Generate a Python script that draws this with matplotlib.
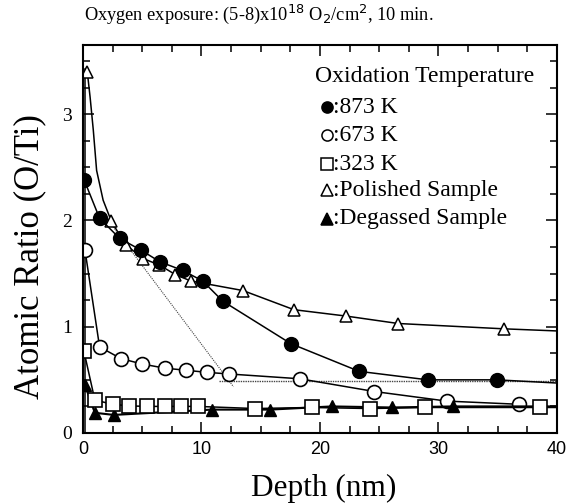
import matplotlib
matplotlib.use("Agg")
import matplotlib.pyplot as plt
from matplotlib.ticker import MultipleLocator

# 873 K (filled circles)
depth_873 = [0.1, 1.4, 3.1, 4.9, 6.5, 8.4, 10.1, 11.8, 17.55, 23.3, 29.1, 34.9]
ratio_873 = [2.38, 2.02, 1.83, 1.72, 1.61, 1.53, 1.43, 1.24, 0.84, 0.58, 0.50, 0.50]
curve_873_x = depth_873 + [40.0]
curve_873_y = ratio_873 + [0.47]

# 673 K (open circles)
depth_673 = [0.17, 1.4, 3.2, 4.95, 6.9, 8.7, 10.5, 12.35, 18.3, 24.6, 30.7, 36.8]
ratio_673 = [1.72, 0.81, 0.70, 0.65, 0.61, 0.59, 0.57, 0.555, 0.51, 0.39, 0.30, 0.27]

# 323 K (open squares)
depth_323 = [0.08, 1.0, 2.5, 3.9, 5.4, 6.9, 8.3, 9.7, 14.5, 19.3, 24.2, 28.9, 38.6]
ratio_323 = [0.77, 0.31, 0.27, 0.255, 0.25, 0.25, 0.25, 0.25, 0.23, 0.24, 0.23, 0.24, 0.24]
curve_323_x = depth_323 + [40.0]
curve_323_y = ratio_323 + [0.24]

# polished sample (open triangles)
depth_pol = [0.36, 2.4, 3.6, 5.1, 6.45, 7.8, 9.1, 13.5, 17.8, 22.2, 26.6, 35.5]
ratio_pol = [3.40, 1.99, 1.77, 1.64, 1.58, 1.49, 1.43, 1.34, 1.16, 1.10, 1.03, 0.98]
curve_pol_x = [0.36, 0.6, 0.87, 1.15, 1.7] + depth_pol[1:] + [40.0]
curve_pol_y = [3.40, 3.16, 2.85, 2.47, 2.19] + ratio_pol[1:] + [0.96]

# degassed sample (filled triangles)
depth_deg = [0.17, 1.0, 2.6, 10.9, 15.8, 21.0, 26.05, 31.25]
ratio_deg = [0.45, 0.19, 0.17, 0.22, 0.22, 0.25, 0.24, 0.25]
curve_deg_x = depth_deg + [40.0]
curve_deg_y = ratio_deg + [0.25]

# surface reference line and dotted guide lines
surface_x = [0.15, 0.15]
surface_y = [0.0, 3.42]
slope_x = [2.2, 12.7]
slope_y = [1.99, 0.435]
level_x = [11.5, 40.0]
level_y = [0.49, 0.49]

legend_labels = [":873 K", ":673 K", ":323 K", ":Polished Sample", ":Degassed Sample"]

serif = "Liberation Serif"
sans = "Liberation Sans"

fig = plt.figure(figsize=(5.68, 5.04), dpi=100)
ax = fig.add_axes([0.1461, 0.1409, 0.8345, 0.7698])

lw = 1.1
ms = 9
ax.plot(surface_x, surface_y, color="black", lw=lw)
ax.plot(slope_x, slope_y, color="#444444", lw=0.8, ls=(0, (1, 1)))
ax.plot(level_x, level_y, color="#444444", lw=1.0, ls=(0, (1, 0.7)))

ax.plot(curve_pol_x, curve_pol_y, color="black", lw=lw)
ax.plot(depth_pol, ratio_pol, ls="none", marker="^", ms=ms, mfc="white", mec="black", mew=1.1)

ax.plot(curve_873_x, curve_873_y, color="black", lw=lw)
ax.plot(depth_873, ratio_873, ls="none", marker="o", ms=ms + 1, mfc="black", mec="black")

ax.plot(depth_673, ratio_673, color="black", lw=lw)
ax.plot(depth_673, ratio_673, ls="none", marker="o", ms=ms + 1, mfc="white", mec="black", mew=1.2)

ax.plot(curve_deg_x, curve_deg_y, color="black", lw=lw + 0.4)
ax.plot(depth_deg, ratio_deg, ls="none", marker="^", ms=ms - 1, mfc="black", mec="black")

ax.plot(curve_323_x, curve_323_y, color="black", lw=lw)
ax.plot(depth_323, ratio_323, ls="none", marker="s", ms=ms + 1, mfc="white", mec="black", mew=1.2)

ax.set_xlim(0, 40)
ax.set_ylim(0, 3.65)
ax.xaxis.set_major_locator(MultipleLocator(10))
ax.xaxis.set_minor_locator(MultipleLocator(2.5))
ax.yaxis.set_major_locator(MultipleLocator(1))
ax.yaxis.set_minor_locator(MultipleLocator(0.25))
ax.tick_params(which="both", direction="in", top=True, right=True, width=1.1)
ax.tick_params(which="major", length=8)
ax.tick_params(which="minor", length=5)
ax.tick_params(axis="x", pad=6)
ax.tick_params(axis="y", pad=8)
for lab in ax.get_xticklabels():
    lab.set_fontfamily(sans)
    lab.set_fontsize(13)
for lab in ax.get_yticklabels():
    lab.set_fontfamily(serif)
    lab.set_fontsize(14)
for sp in ax.spines.values():
    sp.set_linewidth(1.5)

ax.set_xlabel("Depth (nm)", fontfamily=serif, fontsize=22.5)
ax.set_ylabel("Atomic Ratio (O/Ti)", fontfamily=serif, fontsize=25)
ax.xaxis.set_label_coords(0.507, -0.105)
ax.yaxis.set_label_coords(-0.077, 0.455)
fig.text(0.455, 0.972, r"Oxygen exposure: (5-8)x10$^{18}$ O$_2$/cm$^2$, 10 min.",
         fontfamily=serif, fontsize=13.2, ha="center", va="center")

# legend drawn as text lines with markers
ax.text(0.489, 0.918, "Oxidation Temperature", transform=ax.transAxes,
        fontfamily=serif, fontsize=17, va="center", ha="left")
legend_y = [0.84, 0.768, 0.693, 0.626, 0.552]
legend_marker = [("o", "black"), ("o", "white"), ("s", "white"), ("^", "white"), ("^", "black")]
for yy, (mk, fc), lab in zip(legend_y, legend_marker, legend_labels):
    ax.plot([0.515], [yy], transform=ax.transAxes, marker=mk, ms=8,
            mfc=fc, mec="black", mew=1.1, ls="none", clip_on=False)
    ax.text(0.528, yy, lab, transform=ax.transAxes, fontfamily=serif,
            fontsize=17, va="center", ha="left")

fig.savefig("out.png", dpi=100)
